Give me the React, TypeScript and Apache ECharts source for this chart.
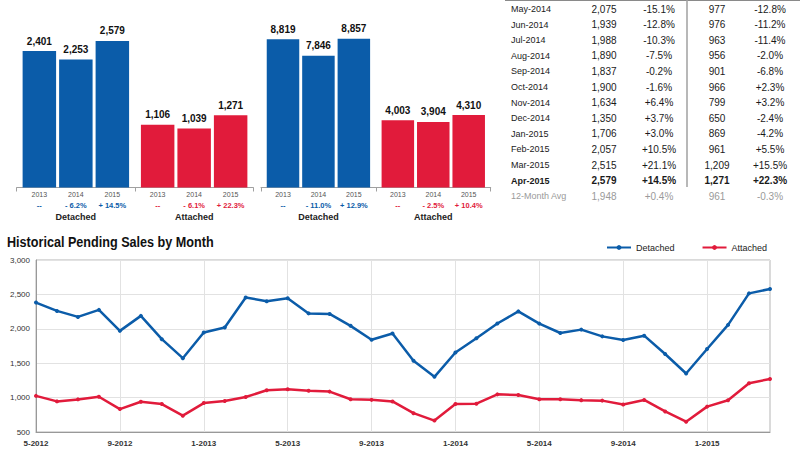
import React, { useEffect, useRef } from "react";
import * as echarts from "echarts";

const BLUE = "#0b5ca9";
const RED = "#e11b3b";
const FONT = "'Liberation Sans', Arial, Helvetica, sans-serif";

// ---- Top bar panels ----
const barYears = ["2013", "2014", "2015"];
const barGroups = ["Detached", "Attached"];
const aprDetached = [2401, 2253, 2579];
const aprAttached = [1106, 1039, 1271];
const aprDetachedPct = ["--", "- 6.2%", "+ 14.5%"];
const aprAttachedPct = ["--", "- 6.1%", "+ 22.3%"];
const ytdDetached = [8819, 7846, 8857];
const ytdAttached = [4003, 3904, 4310];
const ytdDetachedPct = ["--", "- 11.0%", "+ 12.9%"];
const ytdAttachedPct = ["--", "- 2.5%", "+ 10.4%"];

// ---- Line chart ----
const chartTitle = "Historical Pending Sales by Month";
const months = [
  "5-2012", "6-2012", "7-2012", "8-2012", "9-2012", "10-2012", "11-2012", "12-2012",
  "1-2013", "2-2013", "3-2013", "4-2013", "5-2013", "6-2013", "7-2013", "8-2013",
  "9-2013", "10-2013", "11-2013", "12-2013", "1-2014", "2-2014", "3-2014", "4-2014",
  "5-2014", "6-2014", "7-2014", "8-2014", "9-2014", "10-2014", "11-2014", "12-2014",
  "1-2015", "2-2015", "3-2015", "4-2015",
];
const detached = [
  2381, 2260, 2173, 2275, 1970, 2188, 1849, 1573,
  1946, 2018, 2454, 2401, 2444, 2224, 2216, 2043,
  1841, 1931, 1536, 1302, 1656, 1862, 2077, 2253,
  2075, 1939, 1988, 1890, 1837, 1900, 1634, 1350,
  1706, 2057, 2515, 2579,
];
const attached = [
  1025, 945, 974, 1012, 833, 940, 906, 737,
  920, 950, 1008, 1106, 1120, 1099, 1087, 976,
  967, 944, 774, 666, 907, 911, 1047, 1039,
  977, 976, 963, 956, 901, 966, 799, 650,
  869, 961, 1209, 1271,
];
const yTicks = { min: 500, max: 3000, interval: 500 };

// ---- Table ----
const tableMonths = [
  "May-2014", "Jun-2014", "Jul-2014", "Aug-2014", "Sep-2014", "Oct-2014",
  "Nov-2014", "Dec-2014", "Jan-2015", "Feb-2015", "Mar-2015", "Apr-2015",
];
const tableDetachedPct = ["-15.1%", "-12.8%", "-10.3%", "-7.5%", "-0.2%", "-1.6%", "+6.4%", "+3.7%", "+3.0%", "+10.5%", "+21.1%", "+14.5%"];
const tableAttachedPct = ["-12.8%", "-11.2%", "-11.4%", "-2.0%", "-6.8%", "+2.3%", "+3.2%", "-2.4%", "-4.2%", "+5.5%", "+15.5%", "+22.3%"];
const avgRow = ["12-Month Avg", "1,948", "+0.4%", "961", "-0.3%"];

const fmt = (v: number) => v.toLocaleString("en-US");

function barSeriesFor(g: number, D: number[], A: number[], DP: string[], AP: string[]) {
  const out: any[] = [];
  for (let i = 0; i < barYears.length; i++) {
    out.push({
      type: "bar",
      name: `under-${g}-${i}`,
      xAxisIndex: g,
      yAxisIndex: g,
      stack: `s${g}${i}`,
      barGap: "9%",
      barCategoryGap: "10%",
      data: [0, 0],
      itemStyle: { color: "rgba(0,0,0,0)" },
      silent: true,
      label: {
        show: true,
        position: "bottom",
        distance: 2,
        formatter: (p: any) =>
          `{y|${barYears[i]}}\n{${p.dataIndex === 0 ? "b" : "r"}|${p.dataIndex === 0 ? DP[i] : AP[i]}}`,
        rich: {
          y: { fontSize: 7, lineHeight: 10, color: "#555", fontFamily: FONT },
          b: { fontSize: 7.5, lineHeight: 11, color: BLUE, fontWeight: "bold", fontFamily: FONT },
          r: { fontSize: 7.5, lineHeight: 11, color: RED, fontWeight: "bold", fontFamily: FONT },
        },
      },
    });
    out.push({
      type: "bar",
      name: `bar-${g}-${i}`,
      xAxisIndex: g,
      yAxisIndex: g,
      stack: `s${g}${i}`,
      barGap: "9%",
      barCategoryGap: "10%",
      data: [
        { value: D[i], itemStyle: { color: BLUE } },
        { value: A[i], itemStyle: { color: RED } },
      ],
      label: {
        show: true,
        position: "top",
        distance: 5,
        formatter: (p: any) => fmt(p.value),
        fontSize: 10,
        fontWeight: "bold",
        color: "#111",
        fontFamily: FONT,
      },
    });
  }
  return out;
}

function tableGraphics() {
  const els: any[] = [];
  const rowY = (i: number) => 9 + i * 15.6;
  const cols = [
    { x: 511, align: "left" },
    { x: 604, align: "center" },
    { x: 659, align: "center" },
    { x: 717, align: "center" },
    { x: 770, align: "center" },
  ];
  const last12Det = detached.slice(-12);
  const last12Att = attached.slice(-12);
  const addRow = (cells: string[], i: number, bold: boolean, color: string) => {
    cells.forEach((t, c) => {
      els.push({
        type: "text",
        x: cols[c].x,
        y: rowY(i),
        silent: true,
        style: {
          text: t,
          fontSize: c === 0 ? 9 : 10,
          fontWeight: bold ? "bold" : "normal",
          fontFamily: FONT,
          fill: color,
          align: cols[c].align,
          verticalAlign: "middle",
        },
      });
    });
  };
  tableMonths.forEach((m, i) => {
    addRow(
      [m, fmt(last12Det[i]), tableDetachedPct[i], fmt(last12Att[i]), tableAttachedPct[i]],
      i,
      i === tableMonths.length - 1,
      "#1a1a1a"
    );
  });
  addRow(avgRow, tableMonths.length, false, "#9a9a9a");
  els.push({
    type: "line",
    silent: true,
    shape: { x1: 505, y1: 0.5, x2: 800, y2: 0.5 },
    style: { stroke: "#8a8a8a", lineWidth: 1 },
  });
  els.push({
    type: "line",
    silent: true,
    shape: { x1: 687, y1: 0, x2: 687, y2: 187 },
    style: { stroke: "#a0a0a0", lineWidth: 1.5 },
  });
  // chart title (condensed look via horizontal scale)
  els.push({
    type: "text",
    x: 7,
    y: 242,
    scaleX: 0.87,
    silent: true,
    style: {
      text: chartTitle,
      fontSize: 14.5,
      fontWeight: "bold",
      fontFamily: FONT,
      fill: "#111",
      align: "left",
      verticalAlign: "middle",
    },
  });
  return els;
}

export default function App() {
  const ref = useRef<HTMLDivElement>(null);
  useEffect(() => {
    const chart = echarts.init(ref.current!, null, { renderer: "svg" });
    const barX = (g: number) => ({
      type: "category",
      gridIndex: g,
      data: barGroups,
      axisLine: { lineStyle: { color: "#a0a0a0", width: 1 } },
      axisTick: { show: true, length: 4, lineStyle: { color: "#a0a0a0" } },
      axisLabel: { margin: 25, fontSize: 9, fontWeight: "bold", color: "#222", fontFamily: FONT },
    });
    const option: any = {
      animation: false,
      backgroundColor: "#fff",
      textStyle: { fontFamily: FONT },
      legend: {
        data: ["Detached", "Attached"],
        left: 606,
        top: 243,
        padding: 0,
        itemWidth: 24,
        itemHeight: 6,
        itemGap: 27,
        textStyle: { fontSize: 9, color: "#222", fontFamily: FONT },
      },
      grid: [
        { left: 16.7, right: 546.7, top: 17, bottom: 262.5 },
        { left: 261, right: 309.3, top: 19.5, bottom: 262.5 },
        { left: 36, right: 30, top: 260, bottom: 18, show: true, borderColor: "#b5b5b5", borderWidth: 1 },
      ],
      xAxis: [
        barX(0),
        barX(1),
        {
          type: "category",
          gridIndex: 2,
          data: months,
          boundaryGap: false,
          axisLine: { lineStyle: { color: "#999" } },
          axisTick: { show: false },
          axisLabel: { interval: 3, fontSize: 8, fontWeight: "bold", color: "#333", margin: 7, fontFamily: FONT },
          splitLine: { show: true, interval: 3, lineStyle: { color: "#e2e2e2" } },
        },
      ],
      yAxis: [
        { type: "value", gridIndex: 0, min: 0, max: 3000, show: false },
        { type: "value", gridIndex: 1, min: 0, max: 10000, show: false },
        {
          type: "value",
          gridIndex: 2,
          min: yTicks.min,
          max: yTicks.max,
          interval: yTicks.interval,
          axisLine: { show: true, lineStyle: { color: "#999" } },
          axisTick: { show: false },
          axisLabel: { fontSize: 8, color: "#333", margin: 6, formatter: (v: number) => fmt(v), fontFamily: FONT },
          splitLine: { show: true, lineStyle: { color: "#e2e2e2" } },
        },
      ],
      series: [
        ...barSeriesFor(0, aprDetached, aprAttached, aprDetachedPct, aprAttachedPct),
        ...barSeriesFor(1, ytdDetached, ytdAttached, ytdDetachedPct, ytdAttachedPct),
        {
          type: "line",
          name: "Detached",
          xAxisIndex: 2,
          yAxisIndex: 2,
          data: detached,
          symbol: "circle",
          symbolSize: 4,
          lineStyle: { width: 2.5, color: BLUE },
          itemStyle: { color: BLUE },
        },
        {
          type: "line",
          name: "Attached",
          xAxisIndex: 2,
          yAxisIndex: 2,
          data: attached,
          symbol: "circle",
          symbolSize: 4,
          lineStyle: { width: 2.5, color: RED },
          itemStyle: { color: RED },
        },
      ],
      graphic: tableGraphics(),
    };
    chart.setOption(option);
    return () => chart.dispose();
  }, []);
  return (
    <div
      ref={ref}
      style={{ position: "fixed", left: 0, top: 0, width: 800, height: 450, background: "#fff" }}
    />
  );
}
